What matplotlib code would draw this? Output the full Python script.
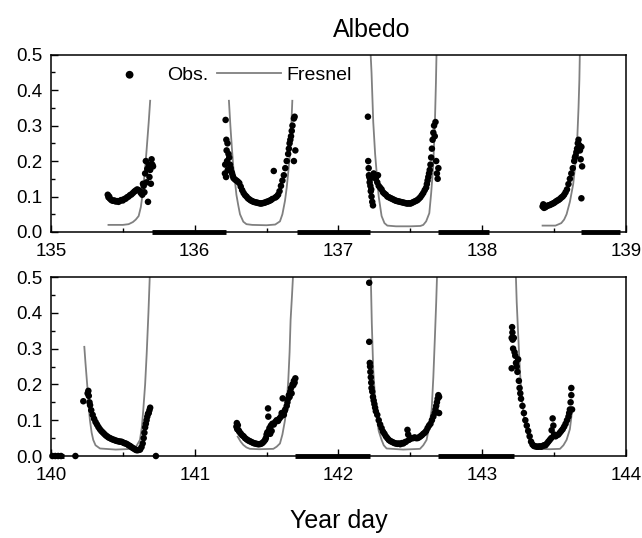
import matplotlib
matplotlib.use("Agg")
import matplotlib.pyplot as plt
from matplotlib.ticker import MultipleLocator

plt.rcParams['font.family'] = ['Liberation Sans', 'DejaVu Sans']

# ---- observed albedo, upper panel (days 135-139) ----
top_obs_day = [
    135.395, 135.40, 135.405, 135.41, 135.42, 135.43, 135.44, 135.45, 135.46, 135.47, 135.48, 135.49, 135.50,
    135.51, 135.52, 135.53, 135.54, 135.55, 135.56, 135.57, 135.58, 135.59, 135.60, 135.61, 135.62, 135.625,
    135.635, 135.64, 135.645, 135.65, 135.655, 135.66, 135.665, 135.67, 135.675, 135.68, 135.685, 135.69,
    135.695, 135.70, 135.705, 135.71,
    136.21, 136.212, 136.215, 136.218, 136.22, 136.222, 136.225, 136.228, 136.23, 136.235, 136.24, 136.245,
    136.25, 136.255, 136.26, 136.265, 136.27, 136.28, 136.29, 136.30, 136.31, 136.32, 136.33, 136.34, 136.35,
    136.36, 136.37, 136.38, 136.39, 136.40, 136.41, 136.42, 136.43, 136.44, 136.45, 136.46, 136.47, 136.48,
    136.49, 136.50, 136.51, 136.52, 136.53, 136.54, 136.55, 136.56, 136.57, 136.58, 136.59, 136.60, 136.61,
    136.62, 136.63, 136.64, 136.65, 136.655, 136.66, 136.665, 136.67, 136.675, 136.68, 136.69, 136.695,
    136.70, 136.69,
    137.205, 137.207, 137.21, 137.212, 137.215, 137.217, 137.22, 137.222, 137.225, 137.228, 137.23, 137.235,
    137.24, 137.245, 137.25, 137.26, 137.27, 137.275, 137.28, 137.29, 137.30, 137.31, 137.32, 137.33, 137.34,
    137.35, 137.36, 137.37, 137.38, 137.39, 137.40, 137.41, 137.42, 137.43, 137.44, 137.45, 137.46, 137.47,
    137.48, 137.49, 137.50, 137.51, 137.52, 137.53, 137.54, 137.55, 137.56, 137.57, 137.58, 137.59, 137.60,
    137.61, 137.615, 137.62, 137.625, 137.63, 137.635, 137.64, 137.645, 137.65, 137.655, 137.66, 137.665,
    137.67, 137.675, 137.68, 137.685, 137.69, 137.695,
    138.42, 138.425, 138.43, 138.435, 138.44, 138.45, 138.46, 138.47, 138.48, 138.49, 138.50, 138.51, 138.52,
    138.53, 138.54, 138.55, 138.56, 138.57, 138.58, 138.59, 138.60, 138.61, 138.62, 138.63, 138.64, 138.645,
    138.65, 138.655, 138.66, 138.665, 138.67, 138.675, 138.68, 138.685, 138.69, 138.69, 138.695,
]
top_obs_val = [
    0.105, 0.098, 0.10, 0.094, 0.09, 0.088, 0.089, 0.086, 0.087, 0.085, 0.088, 0.09, 0.089,
    0.093, 0.094, 0.098, 0.10, 0.104, 0.106, 0.11, 0.114, 0.117, 0.12, 0.118, 0.115, 0.11,
    0.105, 0.136, 0.13, 0.112, 0.165, 0.20, 0.14, 0.178, 0.085, 0.19, 0.155, 0.175,
    0.136, 0.205, 0.19, 0.185,
    0.165, 0.19, 0.316, 0.155, 0.26, 0.23, 0.20, 0.25, 0.175, 0.22, 0.21, 0.19,
    0.18, 0.17, 0.165, 0.158, 0.152, 0.148, 0.145, 0.142, 0.138, 0.128, 0.118, 0.11, 0.104,
    0.10, 0.095, 0.092, 0.089, 0.087, 0.085, 0.084, 0.083, 0.082, 0.081, 0.08, 0.081, 0.082,
    0.083, 0.085, 0.086, 0.088, 0.09, 0.093, 0.172, 0.097, 0.10, 0.105, 0.115, 0.13, 0.145,
    0.16, 0.18, 0.20, 0.22, 0.235, 0.25, 0.26, 0.27, 0.285, 0.30, 0.32, 0.325,
    0.23, 0.20,
    0.325, 0.20, 0.18, 0.16, 0.155, 0.14, 0.15, 0.13, 0.115, 0.12, 0.10, 0.085,
    0.075, 0.165, 0.155, 0.15, 0.14, 0.16, 0.13, 0.125, 0.12, 0.112, 0.108, 0.105, 0.10,
    0.098, 0.096, 0.094, 0.092, 0.09, 0.088, 0.087, 0.086, 0.085, 0.084, 0.083, 0.082, 0.081,
    0.08, 0.081, 0.08, 0.082, 0.084, 0.086, 0.088, 0.09, 0.094, 0.098, 0.104, 0.11, 0.118,
    0.125, 0.135, 0.145, 0.155, 0.165, 0.175, 0.19, 0.21, 0.235, 0.26, 0.28, 0.30,
    0.27, 0.31, 0.20, 0.165, 0.15, 0.18,
    0.072, 0.078, 0.068, 0.074, 0.07, 0.073, 0.075, 0.076, 0.078, 0.08, 0.082, 0.085, 0.088,
    0.09, 0.093, 0.097, 0.10, 0.105, 0.112, 0.12, 0.135, 0.15, 0.165, 0.18, 0.20, 0.21,
    0.215, 0.225, 0.235, 0.25, 0.26, 0.245, 0.23, 0.205, 0.24, 0.095, 0.185,
]

# ---- observed albedo, lower panel (days 140-144) ----
bot_obs_day = [
    140.01, 140.03, 140.05, 140.07, 140.17, 140.73,
    140.225, 140.255, 140.26, 140.263, 140.268, 140.272, 140.28, 140.29, 140.30, 140.31, 140.32, 140.33,
    140.34, 140.35, 140.36, 140.37, 140.38, 140.39, 140.40, 140.41, 140.42, 140.43, 140.44, 140.45, 140.46,
    140.47, 140.48, 140.49, 140.50, 140.51, 140.52, 140.53, 140.54, 140.55, 140.56, 140.57, 140.58, 140.59,
    140.60, 140.61, 140.62, 140.63, 140.638, 140.645, 140.65, 140.655, 140.66, 140.665, 140.67, 140.675,
    140.68, 140.685, 140.69,
    141.29, 141.293, 141.296, 141.30, 141.305, 141.31, 141.32, 141.33, 141.34, 141.35, 141.36, 141.37,
    141.38, 141.39, 141.40, 141.41, 141.42, 141.43, 141.44, 141.45, 141.46, 141.47, 141.48, 141.49, 141.495,
    141.50, 141.505, 141.51, 141.512, 141.515, 141.52, 141.525, 141.53, 141.535, 141.54, 141.55, 141.56,
    141.57, 141.58, 141.59, 141.60, 141.605, 141.612, 141.62, 141.625, 141.63, 141.64, 141.645, 141.65,
    141.655, 141.66, 141.665, 141.67, 141.674, 141.68, 141.686, 141.69, 141.695, 141.70,
    142.214, 142.214, 142.218, 142.22, 142.222, 142.225, 142.228, 142.23, 142.235, 142.24, 142.245, 142.25,
    142.255, 142.26, 142.27, 142.28, 142.29, 142.30, 142.31, 142.32, 142.33, 142.34, 142.35, 142.36, 142.37,
    142.38, 142.39, 142.40, 142.41, 142.42, 142.43, 142.44, 142.45, 142.46, 142.47, 142.48, 142.485, 142.49,
    142.50, 142.51, 142.52, 142.53, 142.54, 142.55, 142.56, 142.57, 142.58, 142.59, 142.60, 142.61, 142.62,
    142.63, 142.64, 142.65, 142.66, 142.67, 142.675, 142.68, 142.685, 142.69, 142.695, 142.70, 142.70,
    143.205, 143.205, 143.208, 143.21, 143.212, 143.215, 143.22, 143.225, 143.23, 143.235, 143.24, 143.245,
    143.25, 143.255, 143.26, 143.265, 143.27, 143.28, 143.29, 143.30, 143.31, 143.32, 143.33, 143.34, 143.35,
    143.36, 143.37, 143.38, 143.39, 143.40, 143.41, 143.42, 143.43, 143.44, 143.45, 143.46, 143.47, 143.48,
    143.483, 143.49, 143.495, 143.50, 143.51, 143.52, 143.53, 143.54, 143.55, 143.56, 143.57, 143.58, 143.59,
    143.60, 143.605, 143.61, 143.615, 143.62, 143.62, 143.625,
]
bot_obs_val = [
    0.0, 0.0, 0.0, 0.0, 0.0, 0.0,
    0.153, 0.175, 0.182, 0.168, 0.15, 0.142, 0.128, 0.115, 0.104, 0.095, 0.088, 0.081,
    0.075, 0.07, 0.066, 0.062, 0.058, 0.055, 0.052, 0.05, 0.048, 0.046, 0.045, 0.043, 0.042,
    0.041, 0.04, 0.04, 0.038, 0.036, 0.035, 0.033, 0.03, 0.028, 0.025, 0.022, 0.02, 0.017,
    0.016, 0.017, 0.018, 0.025, 0.035, 0.05, 0.065, 0.08, 0.09, 0.10, 0.11, 0.118,
    0.12, 0.128, 0.135,
    0.082, 0.092, 0.075, 0.086, 0.072, 0.068, 0.063, 0.058, 0.055, 0.05, 0.047, 0.044,
    0.042, 0.04, 0.038, 0.036, 0.035, 0.034, 0.033, 0.033, 0.034, 0.036, 0.04, 0.045, 0.05,
    0.06, 0.066, 0.133, 0.11, 0.07, 0.078, 0.062, 0.085, 0.07, 0.09, 0.088, 0.095,
    0.10, 0.098, 0.105, 0.11, 0.12, 0.161, 0.115, 0.125, 0.13, 0.14, 0.15, 0.16,
    0.17, 0.165, 0.18, 0.19, 0.175, 0.20, 0.198, 0.21, 0.205, 0.217,
    0.484, 0.319, 0.26, 0.25, 0.235, 0.22, 0.205, 0.19, 0.18, 0.165, 0.155, 0.145,
    0.135, 0.125, 0.115, 0.10, 0.088, 0.078, 0.068, 0.062, 0.055, 0.05, 0.045, 0.042, 0.04,
    0.038, 0.036, 0.035, 0.034, 0.035, 0.033, 0.036, 0.035, 0.038, 0.04, 0.073, 0.06, 0.045,
    0.048, 0.05, 0.05, 0.052, 0.05, 0.05, 0.052, 0.055, 0.058, 0.062, 0.065, 0.07, 0.078,
    0.085, 0.09, 0.10, 0.11, 0.12, 0.13, 0.14, 0.15, 0.16, 0.17, 0.165, 0.12,
    0.245, 0.33, 0.36, 0.345, 0.325, 0.30, 0.33, 0.29, 0.28, 0.26, 0.25, 0.235,
    0.27, 0.21, 0.19, 0.175, 0.16, 0.14, 0.12, 0.10, 0.085, 0.07, 0.055, 0.04, 0.032,
    0.028, 0.027, 0.026, 0.026, 0.027, 0.026, 0.028, 0.03, 0.03, 0.035, 0.04, 0.045, 0.05,
    0.072, 0.105, 0.085, 0.06, 0.055, 0.058, 0.06, 0.065, 0.07, 0.075, 0.082, 0.09, 0.10,
    0.11, 0.12, 0.13, 0.15, 0.19, 0.17, 0.13,
]

# ---- Fresnel reflectance, one list per daytime segment ----
top_fres_day = [
    [135.40, 135.45, 135.50, 135.54, 135.57, 135.59, 135.61, 135.625, 135.64, 135.655, 135.665, 135.68, 135.69],
    [136.238, 136.248, 136.258, 136.268, 136.28, 136.29, 136.303, 136.315, 136.338, 136.36, 136.40, 136.50,
     136.56, 136.593, 136.61, 136.628, 136.64, 136.651, 136.66, 136.668, 136.679],
    [137.224, 137.23, 137.242, 137.255, 137.266, 137.28, 137.30, 137.32, 137.34, 137.40, 137.50, 137.57,
     137.59, 137.61, 137.632, 137.645, 137.659, 137.671, 137.678, 137.683],
    [138.42, 138.46, 138.51, 138.55, 138.57, 138.587, 138.61, 138.633, 138.65, 138.661, 138.67, 138.676, 138.68],
]
top_fres_val = [
    [0.02, 0.02, 0.02, 0.022, 0.028, 0.035, 0.045, 0.07, 0.115, 0.18, 0.23, 0.31, 0.37],
    [0.37, 0.30, 0.24, 0.185, 0.143, 0.105, 0.075, 0.05, 0.029, 0.022, 0.02, 0.019,
     0.021, 0.03, 0.05, 0.088, 0.125, 0.17, 0.21, 0.26, 0.37],
    [0.50, 0.45, 0.31, 0.22, 0.166, 0.10, 0.045, 0.025, 0.018, 0.016, 0.016, 0.017,
     0.02, 0.03, 0.053, 0.11, 0.185, 0.31, 0.42, 0.52],
    [0.018, 0.018, 0.018, 0.025, 0.035, 0.05, 0.085, 0.135, 0.20, 0.26, 0.35, 0.43, 0.52],
]
bot_fres_day = [
    [140.232, 140.24, 140.253, 140.262, 140.271, 140.283, 140.294, 140.31, 140.341, 140.45, 140.573,
     140.595, 140.619, 140.632, 140.642, 140.655, 140.666, 140.678, 140.689],
    [141.299, 141.32, 141.338, 141.36, 141.384, 141.45, 141.547, 141.57, 141.593, 141.61, 141.628,
     141.64, 141.651, 141.66, 141.667, 141.677, 141.686],
    [142.224, 142.232, 142.242, 142.255, 142.266, 142.28, 142.30, 142.315, 142.335, 142.45, 142.567,
     142.59, 142.613, 142.63, 142.648, 142.66, 142.671, 142.68, 142.687],
    [143.233, 143.24, 143.251, 143.262, 143.274, 143.29, 143.309, 143.325, 143.344, 143.37, 143.402,
     143.47, 143.541, 143.565, 143.587, 143.61, 143.625],
]
bot_fres_val = [
    [0.305, 0.26, 0.194, 0.14, 0.10, 0.065, 0.045, 0.03, 0.021, 0.018, 0.02,
     0.028, 0.045, 0.08, 0.128, 0.20, 0.287, 0.40, 0.52],
    [0.054, 0.04, 0.031, 0.024, 0.02, 0.019, 0.02, 0.026, 0.035, 0.06, 0.10,
     0.15, 0.212, 0.29, 0.38, 0.45, 0.52],
    [0.52, 0.37, 0.24, 0.16, 0.11, 0.07, 0.045, 0.03, 0.021, 0.018, 0.02,
     0.03, 0.045, 0.08, 0.128, 0.22, 0.333, 0.43, 0.52],
    [0.52, 0.43, 0.333, 0.24, 0.166, 0.11, 0.073, 0.045, 0.031, 0.024, 0.02,
     0.019, 0.02, 0.03, 0.045, 0.075, 0.125],
]

# night-time stretches where the record sits at zero
top_night = [(135.70, 136.22), (136.71, 137.22), (137.69, 138.05), (138.69, 138.96)]
bot_night = [(140.0, 140.09), (141.70, 142.22), (142.69, 143.22)]

panels = [
    (135, top_obs_day, top_obs_val, top_fres_day, top_fres_val, top_night, [0.0794, 0.5688, 0.8956, 0.3296]),
    (140, bot_obs_day, bot_obs_val, bot_fres_day, bot_fres_val, bot_night, [0.0794, 0.1524, 0.8956, 0.3327]),
]

fig = plt.figure(figsize=(6.42, 5.38), dpi=100)

for i, (d0, od, ov, fd, fv, night, rect) in enumerate(panels):
    ax = fig.add_axes(rect)
    for k in range(len(fd)):
        ax.plot(fd[k], fv[k], color='0.5', lw=1.3, zorder=2,
                label='Fresnel' if k == 0 else None)
    ax.scatter(od, ov, s=22, color='black', edgecolors='none', zorder=3,
               clip_on=False, label='Obs.')
    for a, b in night:
        ax.hlines(0, a, b, color='black', lw=3.5, zorder=4, clip_on=False)

    ax.set_xlim(d0, d0 + 4)
    ax.set_ylim(0, 0.5)
    ax.xaxis.set_major_locator(MultipleLocator(1))
    ax.xaxis.set_minor_locator(MultipleLocator(0.5))
    ax.yaxis.set_minor_locator(MultipleLocator(0.05))
    ax.set_yticks([0.0, 0.1, 0.2, 0.3, 0.4, 0.5])
    ax.set_yticklabels(['0.0', '0.1', '0.2', '0.3', '0.4', '0.5'])
    ax.tick_params(which='both', direction='in', labelsize=13.5, width=1.0)
    ax.tick_params(axis='x', pad=8)
    ax.tick_params(axis='y', pad=6)
    ax.tick_params(which='major', length=5)
    ax.tick_params(which='minor', length=3)
    for sp in ax.spines.values():
        sp.set_linewidth(1.1)

    if i == 0:
        h, l = ax.get_legend_handles_labels()
        ax.legend(h[::-1], l[::-1], ncol=2, frameon=False, fontsize=14,
                  loc='center left', bbox_to_anchor=(0.064, 0.885),
                  borderpad=0, handlelength=3.3, handletextpad=0.3,
                  columnspacing=0.4, scatterpoints=1, markerscale=1.2)

fig.text(0.579, 0.944, 'Albedo', ha='center', va='center', fontsize=18)
fig.text(0.527, 0.031, 'Year day', ha='center', va='center', fontsize=18)

fig.savefig('out.png', dpi=100)
